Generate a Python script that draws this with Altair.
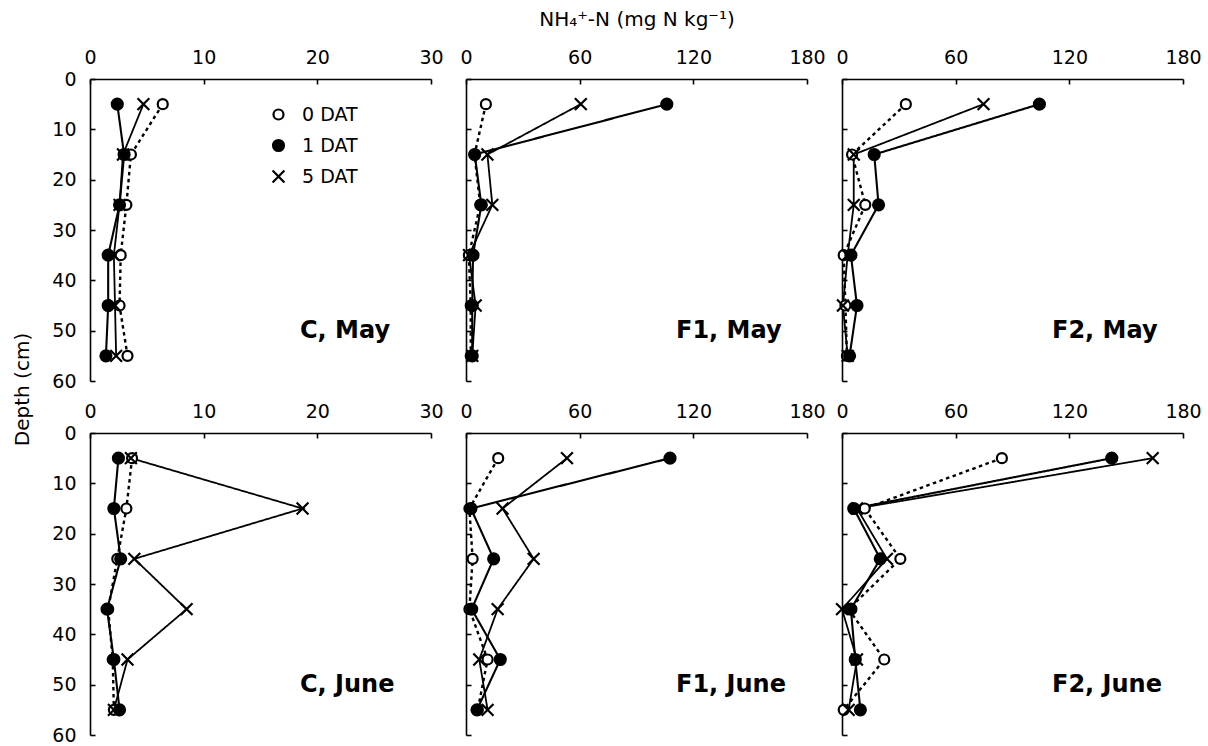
import altair as alt
import pandas as pd

# ---------------- data ----------------
depth = [5, 15, 25, 35, 45, 55]
series = ["0 DAT", "1 DAT", "5 DAT"]
panel_labels = ["C, May", "F1, May", "F2, May", "C, June", "F1, June", "F2, June"]
x_ticks_c = [0, 10, 20, 30]
x_ticks_f = [0, 60, 120, 180]
y_ticks = [0, 10, 20, 30, 40, 50, 60]
x_title = "NH₄⁺-N (mg N kg⁻¹)"
y_title = "Depth (cm)"

c_may_0 = [6.4, 3.6, 3.2, 2.7, 2.6, 3.3]
c_may_1 = [2.4, 3.0, 2.6, 1.6, 1.6, 1.4]
c_may_5 = [4.7, 2.9, 2.6, 2.1, 2.2, 2.3]

f1_may_0 = [10.5, 4.5, 7.5, 1.5, 2.5, 2.5]
f1_may_1 = [106.0, 4.6, 8.1, 3.7, 3.3, 3.3]
f1_may_5 = [60.6, 11.3, 13.9, 1.6, 5.1, 3.3]

f2_may_0 = [33.7, 5.3, 12.3, 0.9, 1.8, 2.6]
f2_may_1 = [104.2, 17.0, 19.3, 4.7, 7.9, 4.0]
f2_may_5 = [74.7, 6.2, 6.2, 3.0, 0.5, 3.0]

c_jun_0 = [3.7, 3.2, 2.4, 1.6, 2.0, 2.1]
c_jun_1 = [2.5, 2.1, 2.7, 1.5, 2.1, 2.6]
c_jun_5 = [3.6, 18.7, 3.9, 8.5, 3.3, 2.1]

f1_jun_0 = [17.0, 1.8, 3.5, 1.8, 11.4, 6.2]
f1_jun_1 = [107.7, 2.6, 14.6, 3.0, 18.1, 5.8]
f1_jun_5 = [53.3, 19.3, 35.7, 16.7, 7.0, 11.4]

f2_jun_0 = [84.4, 12.0, 30.8, 3.5, 22.3, 0.9]
f2_jun_1 = [142.4, 6.2, 20.2, 4.7, 7.0, 9.7]
f2_jun_5 = [164.0, 7.9, 23.7, 0.0, 7.9, 3.5]

# ---------------- style ----------------
FONT = "DejaVu Sans"
W, H = 341, 302
XMARK = "M-1,-1L1,1M-1,1L1,-1"

legend = alt.Legend(
    title=None, orient="none", legendX=179, legendY=26, padding=0,
    labelFont=FONT, labelFontSize=19, labelColor="black", labelOffset=14,
    symbolStrokeColor="black", symbolStrokeWidth=2.2, rowPadding=10,
)


def make_panel(vals, xmax, xticks, label, ylabels=False, ytitle=False, xtitle=False):
    rows = []
    for s, v in zip(series, vals):
        for d, x in zip(depth, v):
            rows.append({"series": s, "depth": d, "value": x})
    df = pd.DataFrame(rows)

    xscale = alt.Scale(domain=[0, xmax], nice=False, zero=False)
    yscale = alt.Scale(domain=[0, 60], reverse=True, nice=False, zero=False)

    xaxis_kw = dict(orient="top", values=xticks, ticks=False, tickSize=0, grid=False,
                    domainColor="black", domainWidth=1.6, labelFont=FONT, labelFontSize=19,
                    labelColor="black", labelPadding=12, labelFlush=False, labelOverlap=False)
    if xtitle:
        xaxis_kw.update(titleFont=FONT, titleFontSize=20, titleFontWeight="normal",
                        titleColor="black", titlePadding=19)
    yaxis_kw = dict(orient="left", values=y_ticks, ticks=False, tickSize=0, grid=False,
                    domainColor="black", domainWidth=1.6, labels=ylabels, labelFont=FONT,
                    labelFontSize=19, labelColor="black", labelPadding=14, labelFlush=False,
                    labelOverlap=False)
    if ytitle:
        yaxis_kw.update(titleFont=FONT, titleFontSize=20, titleFontWeight="normal",
                        titleColor="black", titlePadding=19, titleY=310, titleAlign="center")

    base = alt.Chart(df)
    lines = base.mark_line(color="black").encode(
        x=alt.X("value:Q", scale=xscale, axis=alt.Axis(**xaxis_kw), title=x_title if xtitle else None),
        y=alt.Y("depth:Q", scale=yscale, axis=alt.Axis(**yaxis_kw), title=y_title if ytitle else None),
        strokeDash=alt.StrokeDash("series:N", scale=alt.Scale(range=[[3.5, 3.5], [1, 0], [1, 0]]), legend=None),
        strokeWidth=alt.StrokeWidth("series:N", scale=alt.Scale(range=[2.4, 1.8, 1.8]), legend=None),
        order=alt.Order("depth:Q"),
    )
    tick_x = alt.Axis(orient="top", values=xticks, labels=False, domain=False, ticks=True,
                      tickSize=5, tickWidth=1.6, tickColor="black", offset=-5, grid=False)
    tick_y = alt.Axis(orient="left", values=y_ticks, labels=False, domain=False, ticks=True,
                      tickSize=5, tickWidth=1.6, tickColor="black", offset=-5, grid=False)
    points = base.mark_point(color="black", strokeWidth=2.2, opacity=1).encode(
        x=alt.X("value:Q", scale=xscale, axis=tick_x, title=None),
        y=alt.Y("depth:Q", scale=yscale, axis=tick_y, title=None),
        shape=alt.Shape("series:N", scale=alt.Scale(domain=series, range=["circle", "circle", XMARK]), legend=legend),
        fill=alt.Fill("series:N", scale=alt.Scale(domain=series, range=["white", "black", "black"]), legend=legend),
        stroke=alt.Stroke("series:N", scale=alt.Scale(domain=series, range=["black", "black", "black"]), legend=legend),
        size=alt.Size("series:N", scale=alt.Scale(domain=series, range=[100, 140, 160]), legend=legend),
    )
    text = alt.Chart(pd.DataFrame({"label": [label]})).mark_text(
        font=FONT, fontSize=24, fontWeight="bold", color="black", align="left", baseline="alphabetic"
    ).encode(text="label:N", x=alt.value(210), y=alt.value(259))

    return alt.layer(lines, points, text).resolve_axis(x="independent", y="independent").properties(width=W, height=H)


panels = [
    make_panel([c_may_0, c_may_1, c_may_5], 30, x_ticks_c, panel_labels[0], ylabels=True, ytitle=True),
    make_panel([f1_may_0, f1_may_1, f1_may_5], 180, x_ticks_f, panel_labels[1], xtitle=True),
    make_panel([f2_may_0, f2_may_1, f2_may_5], 180, x_ticks_f, panel_labels[2]),
    make_panel([c_jun_0, c_jun_1, c_jun_5], 30, x_ticks_c, panel_labels[3], ylabels=True),
    make_panel([f1_jun_0, f1_jun_1, f1_jun_5], 180, x_ticks_f, panel_labels[4]),
    make_panel([f2_jun_0, f2_jun_1, f2_jun_5], 180, x_ticks_f, panel_labels[5]),
]

chart = alt.concat(
    *panels, columns=3, spacing={"row": 52, "column": 35}, bounds="flush"
).resolve_scale(
    x="independent", y="independent"
).properties(
    padding={"left": 12, "top": 9, "right": 5, "bottom": 5}, background="white"
).configure_view(stroke=None)

chart.save("out.html", embed_options={"renderer": "svg", "actions": False})
